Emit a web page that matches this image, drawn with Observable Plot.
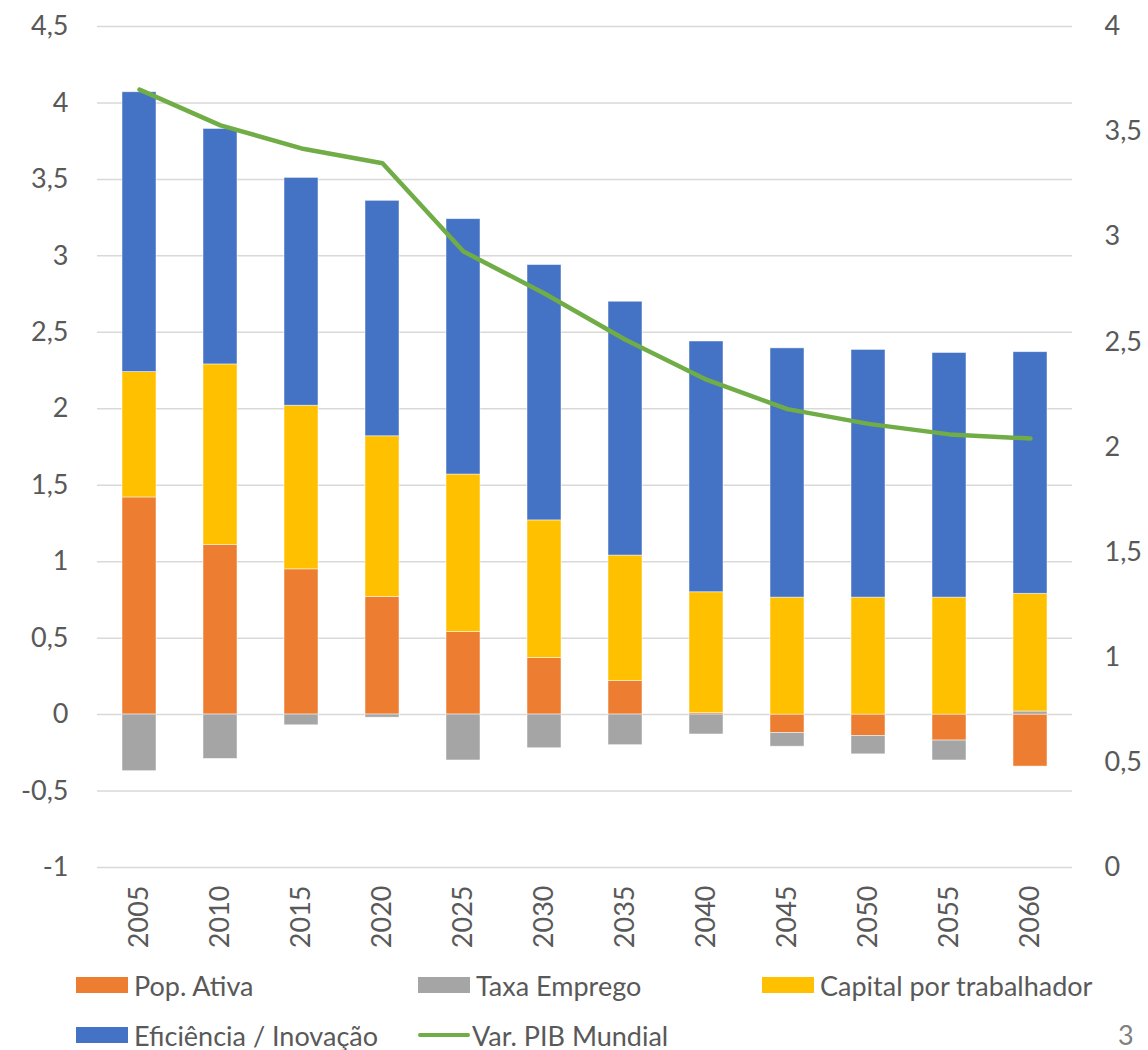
<!DOCTYPE html>
<html>
<head>
<meta charset="utf-8">
<script src="https://cdn.jsdelivr.net/npm/d3@7"></script>
<script src="https://cdn.jsdelivr.net/npm/@observablehq/plot@0.6"></script>
<style>
  html, body { margin: 0; padding: 0; background: white; }
  #wrap { position: relative; width: 1148px; height: 1050px; font-family: Lato, "Open Sans", sans-serif; color: #595959; }
  #legend { position: absolute; left: 0; top: 960px; width: 1148px; height: 90px; font-size: 27px; }
  .item { position: absolute; display: flex; align-items: center; height: 30px; white-space: nowrap; }
  .sw { width: 52px; height: 16px; margin-right: 6px; }
  .ln { width: 52px; height: 4px; border-radius: 2px; margin-right: 2px; }
  #page { position: absolute; left: 1118px; top: 1018px; font-size: 27px; color: #808080; }
</style>
</head>
<body>
<div id="wrap">
  <div id="chart"></div>
  <div id="legend"></div>
  <div id="page">3</div>
</div>
<script>
const years = [2005, 2010, 2015, 2020, 2025, 2030, 2035, 2040, 2045, 2050, 2055, 2060];
const popAtiva    = [1.42, 1.11, 0.95, 0.77, 0.54, 0.37, 0.22, 0.01, -0.12, -0.14, -0.17, -0.34];
const taxaEmprego = [-0.37, -0.29, -0.07, -0.02, -0.30, -0.22, -0.20, -0.13, -0.09, -0.12, -0.13, 0.02];
const capital     = [0.82, 1.18, 1.07, 1.05, 1.03, 0.90, 0.82, 0.79, 0.765, 0.765, 0.765, 0.77];
const eficiencia  = [1.83, 1.54, 1.49, 1.54, 1.67, 1.67, 1.66, 1.64, 1.63, 1.62, 1.60, 1.58];
const pibMundial  = [3.70, 3.53, 3.42, 3.35, 2.93, 2.73, 2.51, 2.32, 2.18, 2.11, 2.06, 2.04];

const seriesNames = ["Pop. Ativa", "Taxa Emprego", "Capital por trabalhador", "Eficiência / Inovação"];
const seriesColors = ["#ed7d31", "#a5a5a5", "#ffc000", "#4472c4"];
const lineName = "Var. PIB Mundial";
const lineColor = "#70ad47";

const leftTicks = [-1, -0.5, 0, 0.5, 1, 1.5, 2, 2.5, 3, 3.5, 4, 4.5];
const rightTicks = [0, 0.5, 1, 1.5, 2, 2.5, 3, 3.5, 4];

// right axis [0,4] mapped onto left axis [-1,4.5]
const toLeft = v => -1 + v * (5.5 / 4);
const fromLeft = d => (d + 1) * (4 / 5.5);
const fmt = d => String(Math.round(d * 10) / 10).replace(".", ",");

const seriesValues = [popAtiva, taxaEmprego, capital, eficiencia];
const rows = years.flatMap((year, i) =>
  seriesNames.map((serie, s) => ({year, serie, value: seriesValues[s][i]}))
);
const pib = years.map((year, i) => ({year, value: pibMundial[i]}));

const chart = Plot.plot({
  width: 1148,
  height: 960,
  marginLeft: 97,
  marginRight: 76,
  marginTop: 26,
  marginBottom: 93,
  style: {fontFamily: "Lato, 'Open Sans', sans-serif", fontSize: "27px", color: "#595959", background: "white"},
  x: {type: "band", domain: years, paddingInner: 0.58, paddingOuter: 0.29, align: 0.5, label: null},
  y: {domain: [-1, 4.5], label: null},
  color: {domain: seriesNames, range: seriesColors},
  marks: [
    Plot.gridY(leftTicks, {stroke: "#d9d9d9", strokeOpacity: 1, strokeWidth: 1.5}),
    Plot.barY(rows, {x: "year", y: "value", fill: "serie", stroke: "white", strokeWidth: 0.8, strokeOpacity: 0.6}),
    Plot.lineY(pib, {x: "year", y: d => toLeft(d.value), stroke: lineColor, strokeWidth: 4.5, strokeLinecap: "round", strokeLinejoin: "round"}),
    Plot.axisY(leftTicks, {anchor: "left", tickSize: 0, tickPadding: 29, tickFormat: fmt, fontSize: 27, label: null}),
    Plot.axisY(rightTicks.map(toLeft), {anchor: "right", tickSize: 0, tickPadding: 32, tickFormat: d => fmt(fromLeft(d)), fontSize: 27, label: null}),
    Plot.axisX(years, {tickRotate: -90, tickSize: 0, tickPadding: 18, tickFormat: d => String(d), fontSize: 27, label: null})
  ]
});
document.getElementById("chart").appendChild(chart);

// legend
const legend = document.getElementById("legend");
const items = [
  {name: seriesNames[0], color: seriesColors[0], type: "bar", left: 76, top: 10},
  {name: seriesNames[1], color: seriesColors[1], type: "bar", left: 418, top: 10},
  {name: seriesNames[2], color: seriesColors[2], type: "bar", left: 762, top: 10},
  {name: seriesNames[3], color: seriesColors[3], type: "bar", left: 76, top: 60},
  {name: lineName, color: lineColor, type: "line", left: 418, top: 60}
];
for (const it of items) {
  const el = document.createElement("div");
  el.className = "item";
  el.style.left = it.left + "px";
  el.style.top = it.top + "px";
  const sw = document.createElement("div");
  sw.className = it.type === "bar" ? "sw" : "ln";
  sw.style.background = it.color;
  const tx = document.createElement("span");
  tx.textContent = it.name;
  el.appendChild(sw);
  el.appendChild(tx);
  legend.appendChild(el);
}
</script>
</body>
</html>
